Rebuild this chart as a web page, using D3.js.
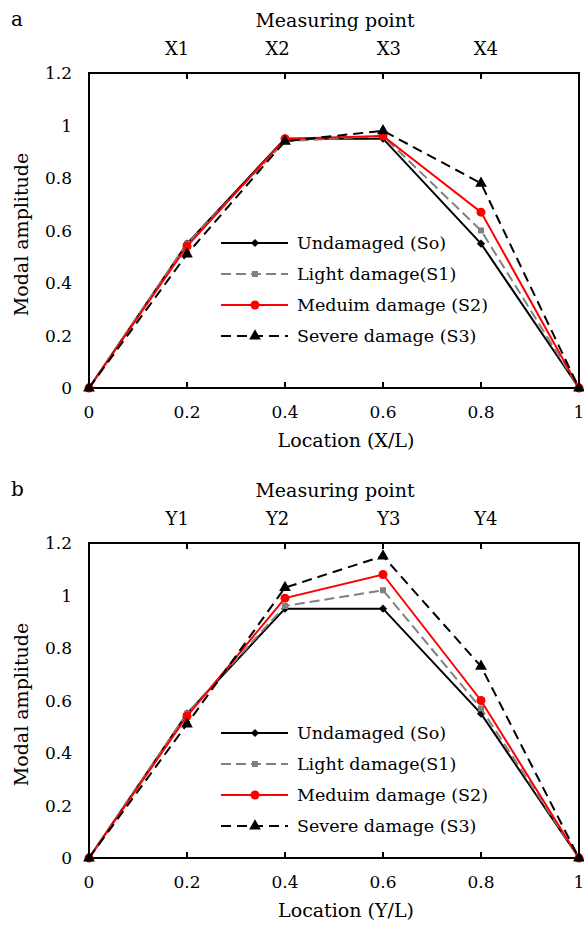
<!DOCTYPE html>
<html>
<head>
<meta charset="utf-8">
<script src="https://cdn.jsdelivr.net/npm/d3@7"></script>
<style>
  body { margin: 0; background: #fff; }
  text { font-family: "DejaVu Serif", "Liberation Serif", serif; fill: #000; }
</style>
</head>
<body>
<div id="chart"></div>
<script>
const locations = [0, 0.2, 0.4, 0.6, 0.8, 1];
const seriesNames = ["Undamaged (So)", "Light damage(S1)", "Meduim damage (S2)", "Severe damage (S3)"];

// panel a
const aUndamaged = [0, 0.55, 0.95, 0.95, 0.55, 0];
const aLight = [0, 0.55, 0.94, 0.96, 0.60, 0];
const aMedium = [0, 0.54, 0.95, 0.96, 0.67, 0];
const aSevere = [0, 0.51, 0.94, 0.98, 0.78, 0];
const aPoints = ["X1", "X2", "X3", "X4"];

// panel b
const bUndamaged = [0, 0.55, 0.95, 0.95, 0.55, 0];
const bLight = [0, 0.55, 0.96, 1.02, 0.57, 0];
const bMedium = [0, 0.54, 0.99, 1.08, 0.60, 0];
const bSevere = [0, 0.51, 1.03, 1.15, 0.73, 0];
const bPoints = ["Y1", "Y2", "Y3", "Y4"];

// where the measuring point labels sit along the top (in X/L units)
const pointLabelPos = [0.18, 0.385, 0.612, 0.81];

const yTicks = [0, 0.2, 0.4, 0.6, 0.8, 1, 1.2];
const xTicks = [0, 0.2, 0.4, 0.6, 0.8, 1];

const styles = [
  { color: "#000", dash: null, marker: "diamond" },
  { color: "#808080", dash: "10,5", marker: "square" },
  { color: "#ff0000", dash: null, marker: "circle" },
  { color: "#000", dash: "10,6", marker: "triangle" }
];

const svg = d3.select("#chart").append("svg")
  .attr("width", 584).attr("height", 927);

function drawPanel(top, letter, xName, points, series, legendY) {
  const left = 89, right = 579, bottom = top + 315;
  const x = d3.scaleLinear().domain([0, 1]).range([left, right]);
  const y = d3.scaleLinear().domain([0, 1.2]).range([bottom, top]);
  const g = svg.append("g");

  g.append("text").attr("x", 11).attr("y", top - 47).attr("font-family", "DejaVu Sans")
    .attr("font-size", 20).text(letter);
  g.append("text").attr("x", (left + right) / 2 + 1).attr("y", top - 46)
    .attr("text-anchor", "middle").attr("font-size", 19).text("Measuring point");
  g.selectAll(".pt").data(points).enter().append("text")
    .attr("x", (d, i) => x(pointLabelPos[i]))
    .attr("y", top - 18).attr("text-anchor", "middle").attr("font-size", 18)
    .text((d) => d);

  // y labels
  g.selectAll(".yl").data(yTicks).enter().append("text")
    .attr("x", left - 17).attr("y", (d) => y(d) + 6)
    .attr("text-anchor", "end").attr("font-size", 17)
    .text((d) => d3.format("~g")(d));
  // x labels
  g.selectAll(".xl").data(xTicks).enter().append("text")
    .attr("x", (d) => x(d)).attr("y", bottom + 30)
    .attr("text-anchor", "middle").attr("font-size", 17)
    .text((d) => d3.format("~g")(d));

  g.append("text").attr("x", (left + right) / 2 + 12).attr("y", bottom + 59)
    .attr("text-anchor", "middle").attr("font-size", 19).text(xName);
  g.append("text").attr("transform", `translate(28,${(top + bottom) / 2 + 4}) rotate(-90)`)
    .attr("text-anchor", "middle").attr("font-size", 19).text("Modal amplitude");

  // frame
  g.append("rect").attr("x", left).attr("y", top)
    .attr("width", right - left).attr("height", bottom - top)
    .attr("fill", "none").attr("stroke", "#000").attr("stroke-width", 2);
  // inner ticks
  const inner = xTicks.slice(1, 5);
  g.selectAll(".tt").data(inner).enter().append("line")
    .attr("x1", (d) => x(d)).attr("x2", (d) => x(d))
    .attr("y1", top).attr("y2", top + 6).attr("stroke", "#000").attr("stroke-width", 2);
  g.selectAll(".bt").data(inner).enter().append("line")
    .attr("x1", (d) => x(d)).attr("x2", (d) => x(d))
    .attr("y1", bottom).attr("y2", bottom - 6).attr("stroke", "#000").attr("stroke-width", 2);

  const line = d3.line().x((d, i) => x(locations[i])).y((d) => y(d));

  series.forEach((vals, k) => {
    const st = styles[k];
    g.append("path").datum(vals).attr("d", line)
      .attr("fill", "none").attr("stroke", st.color).attr("stroke-width", 2)
      .attr("stroke-dasharray", st.dash);
    vals.forEach((v, i) => drawMarker(g, st, x(locations[i]), y(v)));
  });

  // legend
  seriesNames.forEach((name, k) => {
    const st = styles[k];
    const ly = legendY + k * 31;
    g.append("line").attr("x1", 221).attr("x2", 288).attr("y1", ly).attr("y2", ly)
      .attr("stroke", st.color).attr("stroke-width", 2).attr("stroke-dasharray", st.dash);
    drawMarker(g, st, 255, ly);
    g.append("text").attr("x", 297).attr("y", ly + 6).attr("font-size", 17.5).text(name);
  });
}

function drawMarker(g, st, cx, cy) {
  if (st.marker === "circle") {
    g.append("circle").attr("cx", cx).attr("cy", cy).attr("r", 4.5).attr("fill", st.color);
  } else if (st.marker === "diamond") {
    // rotated square, like Excel's diamond marker
    g.append("path").attr("d", d3.symbol().type(d3.symbolSquare).size(34)())
      .attr("transform", `translate(${cx},${cy}) rotate(45)`).attr("fill", st.color);
  } else {
    const type = st.marker === "square" ? d3.symbolSquare : d3.symbolTriangle;
    const size = st.marker === "square" ? 36 : 60;
    g.append("path").attr("d", d3.symbol().type(type).size(size)())
      .attr("transform", `translate(${cx},${cy})`).attr("fill", st.color);
  }
}

drawPanel(73, "a", "Location (X/L)", aPoints, [aUndamaged, aLight, aMedium, aSevere], 243);
drawPanel(543, "b", "Location (Y/L)", bPoints, [bUndamaged, bLight, bMedium, bSevere], 733);
</script>
</body>
</html>
